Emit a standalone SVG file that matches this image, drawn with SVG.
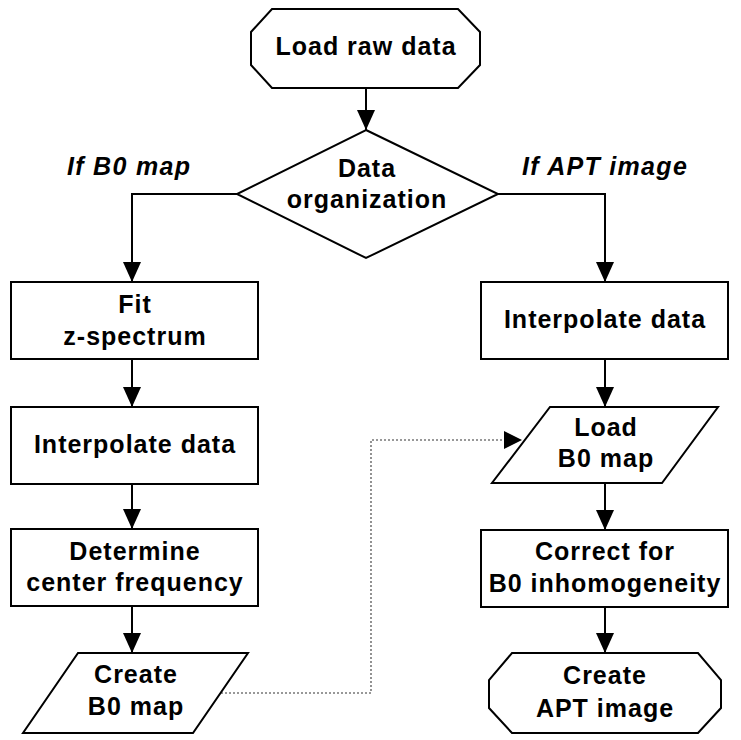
<svg xmlns="http://www.w3.org/2000/svg" width="741" height="740" viewBox="0 0 741 740">
<style>
.s{fill:#fff;stroke:#000;stroke-width:2}
.t{font-family:"Liberation Sans",Arial,sans-serif;font-weight:bold;font-size:25px;letter-spacing:1px;text-anchor:middle;fill:#000}
.l{font-family:"Liberation Sans",Arial,sans-serif;font-weight:bold;font-style:italic;font-size:25px;letter-spacing:1.3px;fill:#000}
.c{fill:none;stroke:#000;stroke-width:2}
.d{fill:none;stroke:#777;stroke-width:1.6;stroke-dasharray:2,2}
</style>
<defs>
<marker id="ah" markerUnits="userSpaceOnUse" viewBox="0 0 20 18" refX="20" refY="9" markerWidth="20" markerHeight="18" orient="auto">
<path d="M0,0 L20,9 L0,18 Z" fill="#000"/>
</marker>
</defs>
<rect width="741" height="740" fill="#fff"/>
<g id="connectors">
<path class="c" d="M366,88 V130" marker-end="url(#ah)"/>
<path class="c" d="M237,194 H132 V282" marker-end="url(#ah)"/>
<path class="c" d="M498,194 H605 V282" marker-end="url(#ah)"/>
<path class="c" d="M132,359 V407" marker-end="url(#ah)"/>
<path class="c" d="M132,484 V529" marker-end="url(#ah)"/>
<path class="c" d="M132,606 V653" marker-end="url(#ah)"/>
<path class="c" d="M605,359 V407" marker-end="url(#ah)"/>
<path class="c" d="M605,483 V530" marker-end="url(#ah)"/>
<path class="c" d="M605,607 V653" marker-end="url(#ah)"/>
<path class="d" d="M221,693 H371 V440 H504"/>
<path d="M504,431 L522,440 L504,449 Z" fill="#000"/>
</g>
<g id="labels">
<text class="l" x="67" y="175">If B0 map</text>
<text class="l" x="522" y="175">If APT image</text>
</g>
<g id="n-load-raw">
<polygon class="s" points="272,9 458,9 480,32 480,65 458,88 272,88 251,65 251,32"/>
<text class="t" x="366" y="55">Load raw data</text>
</g>
<g id="n-data-org">
<polygon class="s" points="366,130 498,194 366,258 237,194"/>
<text class="t" x="367" y="177">Data</text>
<text class="t" x="367" y="208">organization</text>
</g>
<g id="n-fit">
<rect class="s" x="11" y="282" width="247" height="77"/>
<text class="t" x="135" y="313">Fit</text>
<text class="t" x="135" y="345">z-spectrum</text>
</g>
<g id="n-interp-left">
<rect class="s" x="11" y="407" width="247" height="77"/>
<text class="t" x="135" y="453">Interpolate data</text>
</g>
<g id="n-determine">
<rect class="s" x="11" y="529" width="247" height="77"/>
<text class="t" x="135" y="560">Determine</text>
<text class="t" x="135" y="591">center frequency</text>
</g>
<g id="n-create-b0">
<polygon class="s" points="78,653 248,653 193,733 23,733"/>
<text class="t" x="136" y="683">Create</text>
<text class="t" x="136" y="715">B0 map</text>
</g>
<g id="n-interp-right">
<rect class="s" x="481" y="282" width="247" height="77"/>
<text class="t" x="605" y="328">Interpolate data</text>
</g>
<g id="n-load-b0">
<polygon class="s" points="550,407 718,407 662,483 492,483"/>
<text class="t" x="606" y="436">Load</text>
<text class="t" x="606" y="467">B0 map</text>
</g>
<g id="n-correct">
<rect class="s" x="481" y="530" width="247" height="77"/>
<text class="t" x="605" y="560">Correct for</text>
<text class="t" x="605" y="592">B0 inhomogeneity</text>
</g>
<g id="n-create-apt">
<polygon class="s" points="512,653 698,653 721,680 721,708 698,733 512,733 489,708 489,680"/>
<text class="t" x="605" y="684">Create</text>
<text class="t" x="605" y="717">APT image</text>
</g>
</svg>
